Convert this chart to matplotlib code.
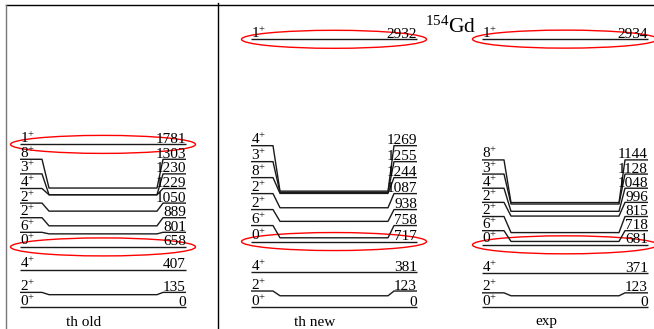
import matplotlib
matplotlib.use('Agg')
import matplotlib.pyplot as plt
from matplotlib.patches import Ellipse

# ---------------- data ----------------
panel_names = ['th old', 'th new', 'exp']

old_E = [0, 135, 407, 658, 801, 889, 1050, 1229, 1230, 1303, 1781]
old_J = ['0', '2', '4', '0', '6', '2', '2', '4', '3', '8', '1']

new_E = [0, 123, 381, 717, 758, 938, 1087, 1244, 1255, 1269, 2932]
new_J = ['0', '2', '4', '0', '6', '2', '2', '8', '3', '4', '1']

exp_E = [0, 123, 371, 681, 718, 815, 996, 1048, 1128, 1144, 2934]
exp_J = ['0', '2', '4', '0', '6', '2', '2', '4', '3', '8', '1']

old_marked = [1781, 658]
new_marked = [2932, 717]
exp_marked = [2934, 681]

nucleus_mass = '154'
nucleus_sym = 'Gd'

# ---------------- style ----------------
plt.rcParams['font.family'] = ['Liberation Serif', 'DejaVu Serif']
plt.rcParams['mathtext.fontset'] = 'custom'
plt.rcParams['mathtext.rm'] = 'Liberation Serif'
plt.rcParams['mathtext.it'] = 'Liberation Serif:italic'
plt.rcParams['mathtext.bf'] = 'Liberation Serif:bold'

PX_PER_KEV = 0.0913
Y0_PX = 307.0
H_PX = 329.0

fig = plt.figure(figsize=(6.54, 3.29), dpi=100)
ax = fig.add_axes([0, 0, 1, 1])
ax.set_xlim(0, 654)
ax.set_ylim((Y0_PX - H_PX) / PX_PER_KEV, Y0_PX / PX_PER_KEV)
ax.axis('off')


def px(p):
    """pixel distance -> keV"""
    return p / PX_PER_KEV


# frame
ax.plot([6 / 654, 1], [1 - 5 / 329, 1 - 5 / 329], color='black', lw=1.0,
        transform=ax.transAxes, clip_on=False)
ax.plot([6 / 654, 6 / 654], [0, 1 - 5 / 329], color='#777777', lw=1.0,
        transform=ax.transAxes, clip_on=False)
ax.plot([218 / 654, 218 / 654], [0, 1 - 3 / 329], color='black', lw=1.0,
        transform=ax.transAxes, clip_on=False)

panels = [
    (old_E, old_J, old_marked, 20, 160),
    (new_E, new_J, new_marked, 251, 175),
    (exp_E, exp_J, exp_marked, 482, 155),
]

FS = 11
for (name, (E, J, marked, x0, gap)) in zip(panel_names, panels):
    # label positions: push upward so labels don't overlap
    order = sorted(range(len(E)), key=lambda i: E[i])
    lab = {}
    prev = None
    for i in order:
        L = E[i] if prev is None else max(E[i], prev + gap)
        lab[i] = L
        prev = L
    for i in order:
        e, L = E[i], lab[i]
        xs = [x0, x0 + 22, x0 + 29, x0 + 137, x0 + 143, x0 + 166]
        ys = [L, L, e, e, L, L]
        ax.plot(xs, ys, color='#1a1a1a', lw=1.0, solid_capstyle='butt')
        ax.text(x0, L + px(1.5), r'$\mathrm{%s}^{+}$' % J[i], fontsize=FS,
                ha='left', va='baseline')
        ax.text(x0 + 166, L + px(1.5), '%d' % e, fontsize=FS,
                ha='right', va='baseline')
    for m in marked:
        ax.add_patch(Ellipse((x0 + 83, m), width=185, height=px(18),
                             fill=False, edgecolor='red', lw=1.0))
    ax.text(x0 + 64, px(Y0_PX - 322), name, fontsize=FS,
            ha='center', va='center')

ax.text(425, px(Y0_PX - 33), r'$^{\mathrm{%s}}\mathrm{%s}$' % (nucleus_mass, nucleus_sym),
        fontsize=15.5, ha='left', va='baseline')

fig.savefig('out.png', dpi=100)
